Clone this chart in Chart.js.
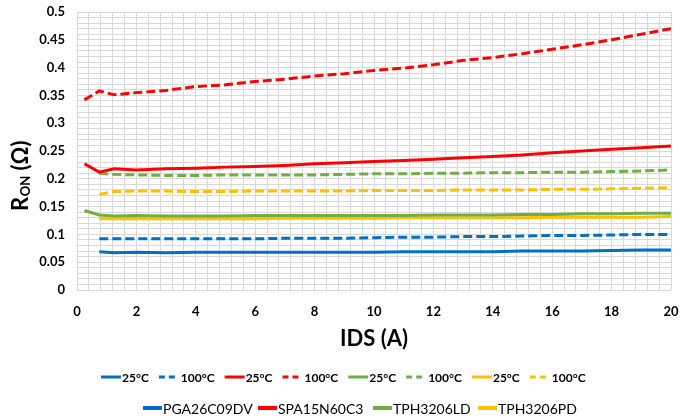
<!DOCTYPE html>
<html><head><meta charset="utf-8">
<script src="https://cdn.jsdelivr.net/npm/chart.js@4/dist/chart.umd.min.js"></script>
<style>html,body{margin:0;padding:0;background:#fff}#wrap{width:694px;height:419px}</style>
</head><body><div id="wrap"><canvas id="c" width="694" height="419"></canvas></div>
<script>
// X values (IDS, A)
const ids = [0.25, 0.75, 1.25, 2, 3, 4, 5, 6, 7, 8, 9, 10, 11, 12, 13, 14, 15, 16, 17, 18, 19, 20];
// RON (Ohm) per device / temperature
const pga25  = [null, 0.069, 0.067, 0.068, 0.067, 0.068, 0.068, 0.068, 0.068, 0.068, 0.068, 0.068, 0.069, 0.069, 0.069, 0.069, 0.070, 0.070, 0.070, 0.071, 0.072, 0.072];
const pga100 = [null, 0.092, 0.092, 0.092, 0.092, 0.092, 0.092, 0.092, 0.093, 0.093, 0.093, 0.094, 0.095, 0.095, 0.096, 0.096, 0.097, 0.098, 0.098, 0.099, 0.100, 0.100];
const spa25  = [0.227, 0.212, 0.218, 0.216, 0.218, 0.219, 0.221, 0.222, 0.224, 0.227, 0.229, 0.231, 0.233, 0.235, 0.238, 0.240, 0.243, 0.247, 0.250, 0.253, 0.256, 0.259];
const spa100 = [0.342, 0.358, 0.351, 0.355, 0.359, 0.366, 0.369, 0.375, 0.379, 0.385, 0.389, 0.395, 0.399, 0.405, 0.413, 0.418, 0.425, 0.433, 0.441, 0.450, 0.460, 0.470];
const tld25  = [0.143, 0.135, 0.133, 0.134, 0.133, 0.133, 0.133, 0.134, 0.134, 0.134, 0.134, 0.134, 0.134, 0.135, 0.135, 0.135, 0.136, 0.136, 0.137, 0.137, 0.138, 0.138];
const tld100 = [null, 0.210, 0.208, 0.207, 0.206, 0.206, 0.207, 0.207, 0.207, 0.207, 0.208, 0.209, 0.209, 0.210, 0.210, 0.211, 0.211, 0.212, 0.212, 0.213, 0.214, 0.216];
const tpd25  = [null, 0.128, 0.128, 0.128, 0.128, 0.128, 0.128, 0.128, 0.129, 0.129, 0.129, 0.129, 0.130, 0.130, 0.130, 0.130, 0.130, 0.131, 0.131, 0.131, 0.131, 0.132];
const tpd100 = [null, 0.172, 0.177, 0.178, 0.178, 0.177, 0.177, 0.178, 0.178, 0.178, 0.178, 0.179, 0.179, 0.179, 0.180, 0.180, 0.180, 0.181, 0.181, 0.182, 0.183, 0.184];
const tempLabels = ['25°C', '100°C'];
const devices = ['PGA26C09DV', 'SPA15N60C3', 'TPH3206LD', 'TPH3206PD'];
const colors = ['#0070C0', '#FF0000', '#70AD47', '#FFC000'];
const seriesByDevice = [[pga25, pga100], [spa25, spa100], [tld25, tld100], [tpd25, tpd100]];

const FONT = 'Lato, "Liberation Sans", sans-serif';
const DASH = [9, 4];

const datasets = [];
seriesByDevice.forEach((pair, d) => {
  pair.forEach((vals, t) => {
    datasets.push({
      label: tempLabels[t],
      data: ids.map((x, i) => ({x: x, y: vals[i]})).filter(p => p.y !== null),
      borderColor: colors[d],
      backgroundColor: colors[d],
      borderWidth: 3,
      borderDash: t === 1 ? DASH : [],
      pointRadius: 0,
      tension: 0,
      fill: false
    });
  });
});

function isMult(v, step) { const r = v / step; return Math.abs(r - Math.round(r)) < 1e-6; }

const extras = {
  id: 'extras',
  afterDraw(chart) {
    const ctx = chart.ctx;
    // Y axis title R_ON (Ω)
    ctx.save();
    ctx.translate(0, 176);
    ctx.rotate(-Math.PI / 2);
    ctx.fillStyle = '#000';
    ctx.textBaseline = 'alphabetic';
    const big = 'bold 22px ' + FONT, small = 'bold 13px ' + FONT;
    ctx.font = big; const wR = ctx.measureText('R').width; const wP = ctx.measureText(' (Ω)').width;
    ctx.font = small; const wO = ctx.measureText('ON').width;
    const x0 = -(wR + wO + wP) / 2;
    ctx.font = big; ctx.fillText('R', x0, 28);
    ctx.font = small; ctx.fillText('ON', x0 + wR + 0.5, 30);
    ctx.font = big; ctx.fillText(' (Ω)', x0 + wR + wO + 0.5, 28);
    ctx.restore();

    // Legend row 1: temperatures per device
    ctx.save();
    ctx.font = 'bold 12px ' + FONT;
    ctx.textBaseline = 'middle';
    let x = 101;
    const y1 = 377;
    chart.data.datasets.forEach((ds) => {
      const dashed = ds.borderDash.length > 0;
      const lw = dashed ? 17 : 20, gap = dashed ? 5 : 1;
      ctx.strokeStyle = ds.borderColor;
      ctx.lineWidth = 3;
      ctx.setLineDash(dashed ? [6, 4] : []);
      ctx.beginPath(); ctx.moveTo(x, y1); ctx.lineTo(x + lw, y1); ctx.stroke();
      ctx.setLineDash([]);
      ctx.fillStyle = '#000';
      ctx.fillText(ds.label, x + lw + gap, y1 + 1);
      x += lw + gap + ctx.measureText(ds.label).width + 10;
    });
    ctx.restore();

    // Legend row 2: device names
    ctx.save();
    ctx.font = '14px ' + FONT;
    ctx.textBaseline = 'middle';
    const starts = [143, 258, 373, 478];
    const y2 = 408;
    devices.forEach((t, i) => {
      const sx = starts[i];
      ctx.strokeStyle = colors[i];
      ctx.lineWidth = 4;
      ctx.beginPath(); ctx.moveTo(sx, y2); ctx.lineTo(sx + 19, y2); ctx.stroke();
      ctx.fillStyle = '#000';
      ctx.fillText(t, sx + 20, y2 + 1);
    });
    ctx.restore();
  }
};

new Chart(document.getElementById('c'), {
  type: 'line',
  data: {datasets: datasets},
  plugins: [extras],
  options: {
    responsive: false,
    animation: false,
    devicePixelRatio: 1,
    layout: {padding: {left: 36, right: 23, top: 12, bottom: 56}},
    plugins: {
      tooltip: {enabled: false},
      legend: {display: false}
    },
    scales: {
      x: {
        type: 'linear', min: 0, max: 20,
        grid: {color: '#d9d9d9', lineWidth: 1, drawTicks: false},
        border: {display: false},
        afterFit: s => { s.height = 73; },
        ticks: {
          stepSize: 0.4, autoSkip: false, maxRotation: 0, padding: 14,
          color: '#000', font: {family: FONT, size: 13, weight: 'bold'},
          callback: v => isMult(v, 2) ? String(Math.round(v)) : ''
        },
        title: {display: true, text: 'IDS (A)', color: '#000', font: {family: FONT, size: 22, weight: 'bold'}, padding: {top: 4, bottom: 11}}
      },
      y: {
        min: 0, max: 0.5,
        grid: {color: '#d9d9d9', lineWidth: 1, drawTicks: true, tickLength: 9, tickColor: 'rgba(0,0,0,0)'},
        border: {display: false},
        afterFit: s => { s.width = 41; },
        ticks: {
          stepSize: 0.01, autoSkip: false, padding: 3,
          color: '#000', font: {family: FONT, size: 13, weight: 'bold'},
          callback: v => isMult(v, 0.05) ? String(Math.round(v * 100) / 100) : ''
        }
      }
    }
  }
});
</script></body></html>
